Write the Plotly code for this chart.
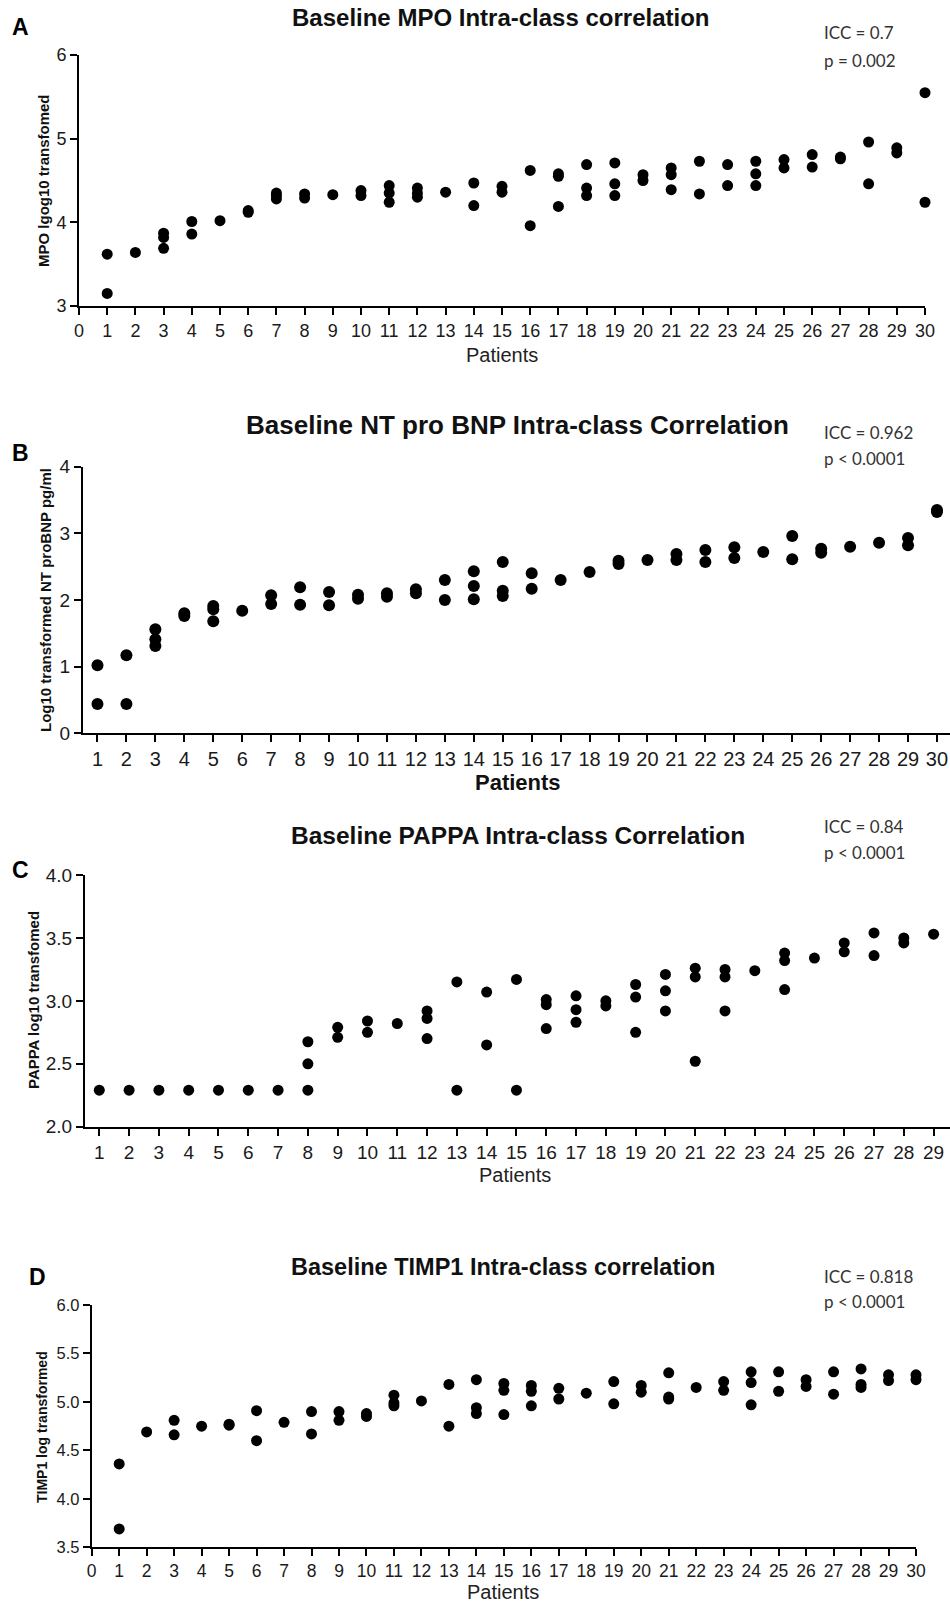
import plotly.graph_objects as go

W, H = 950, 1604

# ---------- Panel A: MPO ----------
mpo_patient = [1, 1, 2, 3, 3, 3, 4, 4, 5, 6, 6, 7, 7, 7, 8, 8, 9, 10, 10,
               11, 11, 11, 12, 12, 12, 13, 14, 14, 15, 15, 16, 16, 17, 17, 17,
               18, 18, 18, 19, 19, 19, 20, 20, 21, 21, 21, 22, 22, 23, 23,
               24, 24, 24, 25, 25, 26, 26, 27, 27, 28, 28, 29, 29, 30, 30]
mpo_value = [3.62, 3.15, 3.64, 3.87, 3.82, 3.69, 4.01, 3.86, 4.02, 4.14, 4.12,
             4.35, 4.32, 4.28, 4.34, 4.29, 4.33, 4.38, 4.32,
             4.44, 4.35, 4.24, 4.41, 4.35, 4.30, 4.36, 4.47, 4.20, 4.43, 4.36,
             4.62, 3.96, 4.58, 4.55, 4.19, 4.69, 4.41, 4.32, 4.71, 4.46, 4.32,
             4.57, 4.50, 4.65, 4.57, 4.39, 4.73, 4.34, 4.69, 4.44,
             4.73, 4.58, 4.44, 4.75, 4.65, 4.81, 4.66, 4.78, 4.76, 4.96, 4.46,
             4.89, 4.83, 5.55, 4.24]

# ---------- Panel B: NT pro BNP ----------
bnp_patient = [1, 1, 2, 2, 3, 3, 3, 4, 4, 5, 5, 5, 6, 7, 7, 8, 8, 9, 9, 10, 10,
               11, 11, 12, 12, 13, 13, 14, 14, 14, 15, 15, 15, 16, 16, 17, 18,
               19, 19, 20, 21, 21, 22, 22, 23, 23, 24, 25, 25, 26, 26, 27, 28,
               29, 29, 30, 30]
bnp_value = [1.02, 0.44, 1.17, 0.44, 1.56, 1.41, 1.31, 1.80, 1.76, 1.91, 1.86,
             1.68, 1.84, 2.07, 1.94, 2.19, 1.93, 2.12, 1.92, 2.08, 2.02,
             2.10, 2.05, 2.16, 2.10, 2.30, 2.00, 2.43, 2.21, 2.01, 2.57, 2.14,
             2.06, 2.40, 2.17, 2.30, 2.42, 2.59, 2.54, 2.60, 2.69, 2.60, 2.75,
             2.57, 2.79, 2.63, 2.72, 2.96, 2.61, 2.77, 2.71, 2.80, 2.86,
             2.93, 2.82, 3.35, 3.32]

# ---------- Panel C: PAPPA ----------
pappa_patient = [1, 2, 3, 4, 5, 6, 7, 8, 8, 8, 9, 9, 10, 10, 11, 12, 12, 12,
                 13, 13, 14, 14, 15, 15, 16, 16, 16, 17, 17, 17, 18, 18,
                 19, 19, 19, 20, 20, 20, 21, 21, 21, 22, 22, 22, 23,
                 24, 24, 24, 25, 26, 26, 27, 27, 28, 28, 29]
pappa_value = [2.29, 2.29, 2.29, 2.29, 2.29, 2.29, 2.29, 2.675, 2.50, 2.29,
               2.79, 2.71, 2.84, 2.75, 2.82, 2.92, 2.86, 2.70,
               3.15, 2.29, 3.07, 2.65, 3.17, 2.29, 3.01, 2.97, 2.78,
               3.04, 2.93, 2.83, 3.00, 2.96, 3.13, 3.03, 2.75,
               3.21, 3.08, 2.92, 3.26, 3.19, 2.52, 3.25, 3.19, 2.92, 3.24,
               3.38, 3.32, 3.09, 3.34, 3.46, 3.39, 3.54, 3.36, 3.50, 3.46, 3.53]

# ---------- Panel D: TIMP1 ----------
timp_patient = [1, 1, 2, 3, 3, 4, 5, 5, 6, 6, 7, 8, 8, 9, 9, 10, 10,
                11, 11, 11, 12, 13, 13, 14, 14, 14, 15, 15, 15, 16, 16, 16,
                17, 17, 18, 19, 19, 20, 20, 21, 21, 21, 22, 23, 23,
                24, 24, 24, 25, 25, 26, 26, 27, 27, 28, 28, 28, 29, 29, 30, 30]
timp_value = [4.36, 3.69, 4.69, 4.81, 4.66, 4.75, 4.77, 4.76, 4.91, 4.60, 4.79,
              4.90, 4.67, 4.90, 4.81, 4.88, 4.85,
              5.07, 4.99, 4.96, 5.01, 5.18, 4.75, 5.23, 4.94, 4.88,
              5.19, 5.12, 4.87, 5.17, 5.11, 4.96, 5.14, 5.03, 5.09,
              5.21, 4.98, 5.17, 5.10, 5.30, 5.05, 5.03, 5.15, 5.21, 5.12,
              5.31, 5.20, 4.97, 5.31, 5.11, 5.23, 5.16, 5.31, 5.08,
              5.34, 5.18, 5.15, 5.28, 5.22, 5.28, 5.23]

ARIAL = "Liberation Sans, Arial, sans-serif"
STAT_FONT = "Lato, Open Sans, sans-serif"


def px_x(p):
    return p / W


def px_y(p):
    return 1 - p / H


panels = [
    dict(x=mpo_patient, y=mpo_value, xd=(79, 925), yd=(306, 55),
         xr=[0, 30], yr=[3, 6], xt=list(range(0, 31)), dy=1, fmt="d",
         ms=11, xf=18, yf=18),
    dict(x=bnp_patient, y=bnp_value, xd=(83, 950), yd=(733.3, 466.7),
         xr=[0.5, 30.45], yr=[0, 4], xt=list(range(1, 31)), dy=1, fmt="d",
         ms=12, xf=20, yf=19),
    dict(x=pappa_patient, y=pappa_value, xd=(85, 950), yd=(1126.7, 875),
         xr=[0.52, 29.55], yr=[2, 4], xt=list(range(1, 30)), dy=0.5, fmt=".1f",
         ms=11, xf=19, yf=19),
    dict(x=timp_patient, y=timp_value, xd=(91.7, 916), yd=(1547.3, 1305),
         xr=[0, 30], yr=[3.5, 6], xt=list(range(0, 31)), dy=0.5, fmt=".1f",
         ms=11, xf=17.5, yf=16.5),
]

fig = go.Figure()
layout = {}
for i, p in enumerate(panels):
    n = "" if i == 0 else str(i + 1)
    fig.add_trace(go.Scatter(
        x=p["x"], y=p["y"], mode="markers",
        marker=dict(color="black", size=p["ms"], line=dict(width=0)),
        xaxis="x" + n, yaxis="y" + n, cliponaxis=False, showlegend=False,
    ))
    layout["xaxis" + n] = dict(
        domain=[px_x(p["xd"][0]), px_x(p["xd"][1])], range=p["xr"],
        anchor="y" + n, tickmode="array", tickvals=p["xt"],
        ticktext=[str(v) for v in p["xt"]], automargin=False,
        showline=True, linecolor="black", linewidth=2, mirror=False,
        ticks="outside", ticklen=7, tickwidth=2, tickcolor="black",
        showgrid=False, zeroline=False,
        tickfont=dict(family=ARIAL, size=p["xf"], color="#1a1a1a"),
    )
    layout["yaxis" + n] = dict(
        domain=[px_y(p["yd"][0]), px_y(p["yd"][1])], range=p["yr"],
        anchor="x" + n, dtick=p["dy"], tick0=p["yr"][0], tickformat=p["fmt"],
        automargin=False,
        showline=True, linecolor="black", linewidth=2,
        ticks="outside", ticklen=7, tickwidth=2, tickcolor="black",
        showgrid=False, zeroline=False,
        tickfont=dict(family=ARIAL, size=p["yf"], color="#1a1a1a"),
    )

annotations = []


def add_text(text, x, y, size, bold=False, family=ARIAL, color="#111",
             xanchor="center", angle=0):
    annotations.append(dict(
        text=f"<b>{text}</b>" if bold else text,
        x=px_x(x), y=px_y(y), xref="paper", yref="paper",
        xanchor=xanchor, yanchor="middle", showarrow=False, textangle=angle,
        font=dict(family=family, size=size, color=color),
    ))


# Titles
add_text("Baseline MPO Intra-class correlation", 500, 17, 24, bold=True)
add_text("Baseline NT pro BNP Intra-class Correlation", 517, 425, 26, bold=True)
add_text("Baseline PAPPA Intra-class Correlation", 518, 836, 24.5, bold=True)
add_text("Baseline TIMP1 Intra-class correlation", 503, 1267, 23.5, bold=True)

# Panel letters
add_text("A", 20, 27, 23, bold=True, color="black")
add_text("B", 20, 453, 23, bold=True, color="black")
add_text("C", 20, 870, 23, bold=True, color="black")
add_text("D", 37, 1277, 23, bold=True, color="black")

# ICC statistics
stats = [("ICC = 0.7", "p = 0.002", 33, 60),
         ("ICC = 0.962", "p < 0.0001", 433, 458),
         ("ICC = 0.84", "p < 0.0001", 827, 852),
         ("ICC = 0.818", "p < 0.0001", 1276, 1301)]
for l1, l2, y1, y2 in stats:
    add_text(l1, 822, y1, 17, family=STAT_FONT, color="#333", xanchor="left")
    add_text(l2, 822, y2, 17, family=STAT_FONT, color="#333", xanchor="left")

# Axis titles
add_text("Patients", 502, 355, 20, color="#222")
add_text("Patients", 518, 782, 22, bold=True, color="#111")
add_text("Patients", 515, 1175, 20, color="#222")
add_text("Patients", 503, 1592, 20, color="#222")

add_text("MPO lgog10 transfomed", 43, 181, 15, bold=True, angle=-90)
add_text("Log10 transformed NT proBNP pg/ml", 45, 600, 15, bold=True, angle=-90)
add_text("PAPPA log10 transfomed", 33, 1000, 15, bold=True, angle=-90)
add_text("TIMP1 log transformed", 42, 1427, 14, bold=True, angle=-90)

layout.update(
    width=W, height=H,
    margin=dict(l=0, r=0, t=0, b=0, pad=0, autoexpand=False),
    paper_bgcolor="white", plot_bgcolor="white",
    annotations=annotations, showlegend=False,
)
fig.update_layout(**layout)
fig.write_html("out.html")
